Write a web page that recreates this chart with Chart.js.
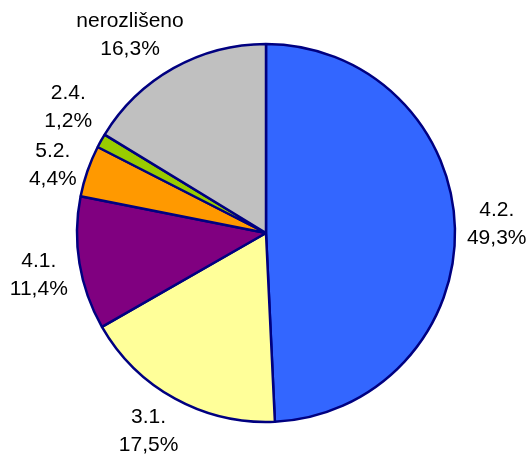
<!DOCTYPE html>
<html>
<head>
<meta charset="utf-8">
<script src="https://cdn.jsdelivr.net/npm/chart.js@4"></script>
<style>
  html, body { margin: 0; padding: 0; background: #fff; }
  #wrap { width: 529px; height: 460px; }
</style>
</head>
<body>
<div id="wrap"><canvas id="pieChart" width="529" height="460"></canvas></div>
<script>
const categories = ['4.2.', '3.1.', '4.1.', '5.2.', '2.4.', 'nerozlišeno'];
const shares = [49.3, 17.5, 11.4, 4.4, 1.2, 16.3];
const shareLabels = ['49,3%', '17,5%', '11,4%', '4,4%', '1,2%', '16,3%'];
const sliceColors = ['#3366FF', '#FFFF99', '#800080', '#FF9900', '#99CC00', '#C0C0C0'];

const FONT = '21px "Liberation Sans", Arial, sans-serif';
const LINE = 28;

// outside labels placed along each slice's mid angle, then nudged apart
const outsideLabels = {
    id: 'outsideLabels',
    afterDatasetsDraw(chart) {
        const ctx = chart.ctx;
        const arcs = chart.getDatasetMeta(0).data;
        ctx.save();
        ctx.font = FONT;
        ctx.fillStyle = '#000';
        ctx.textAlign = 'center';
        ctx.textBaseline = 'middle';

        const boxes = arcs.map((arc, i) => {
            const mid = (arc.startAngle + arc.endAngle) / 2;
            const dx = Math.cos(mid), dy = Math.sin(mid);
            const halfW = Math.max(ctx.measureText(categories[i]).width, ctx.measureText(shareLabels[i]).width) / 2;
            const halfH = 24;
            const d = arc.outerRadius + 12;
            const x = arc.x + dx * d + Math.sign(dx) * halfW * Math.sqrt(Math.abs(dx));
            const y = arc.y + dy * d + Math.sign(dy) * halfH * Math.sqrt(Math.abs(dy));
            return { i, x, y, halfW, halfH };
        });

        // simple pairwise push apart for overlapping boxes
        for (let pass = 0; pass < 5; pass++) {
            for (let a = 0; a < boxes.length; a++) {
                for (let b = a + 1; b < boxes.length; b++) {
                    const A = boxes[a], B = boxes[b];
                    const ox = A.halfW + B.halfW - Math.abs(A.x - B.x);
                    const oy = A.halfH + B.halfH + 10 - Math.abs(A.y - B.y);
                    if (ox > 0 && oy > 0) {
                        const s = A.y < B.y ? -1 : 1;
                        A.y += s * oy / 2;
                        B.y -= s * oy / 2;
                    }
                }
            }
        }

        boxes.forEach(b => {
            ctx.fillText(categories[b.i], b.x, b.y - LINE / 2);
            ctx.fillText(shareLabels[b.i], b.x, b.y + LINE / 2);
        });
        ctx.restore();
    }
};

new Chart(document.getElementById('pieChart'), {
    type: 'pie',
    data: {
        labels: categories,
        datasets: [{
            data: shares,
            backgroundColor: sliceColors,
            borderColor: '#000080',
            borderWidth: 2.5
        }]
    },
    options: {
        responsive: false,
        animation: false,
        radius: 189,
        layout: { padding: { left: 70, right: 67, top: 40, bottom: 34 } },
        plugins: {
            legend: { display: false },
            tooltip: { enabled: false }
        }
    },
    plugins: [outsideLabels]
});
</script>
</body>
</html>
